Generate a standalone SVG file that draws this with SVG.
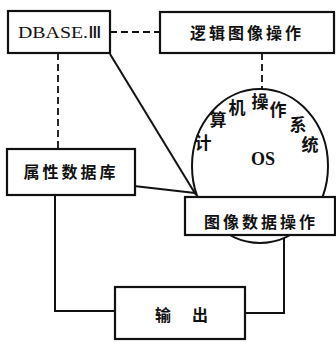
<svg xmlns="http://www.w3.org/2000/svg" width="336" height="343" viewBox="0 0 336 343">
<style>
.box{fill:#fff;stroke:#111;stroke-width:2.2}
.ln{fill:none;stroke:#111;stroke-width:2}
.dash{fill:none;stroke:#111;stroke-width:1.8;stroke-dasharray:7 4}
.cn{font-family:"Noto Sans CJK SC","Noto Sans CJK JP",sans-serif;font-size:16px;font-weight:bold;fill:#111;text-anchor:middle}
.ci{font-size:17px}
.lat{font-family:"Liberation Serif",serif;fill:#111;text-anchor:middle}
</style>
<rect width="336" height="343" fill="#fff"/>
<g id="connectors">
<path class="dash" d="M110 32 H160"/>
<path class="dash" d="M262 53 V90"/>
<path class="dash" d="M58 53 V149"/>
<path class="ln" d="M110 54 L196 195"/>
<path class="ln" d="M134 186 L195 193"/>
<path class="ln" d="M55 195 V311 H115"/>
<path class="ln" d="M245 313 H284 V235"/>
</g>
<g id="os">
<ellipse cx="260" cy="166" rx="68" ry="77" fill="#fff" stroke="#111" stroke-width="2"/>
<text class="cn ci" x="203" y="149">计</text>
<text class="cn ci" x="218" y="126">算</text>
<text class="cn ci" x="237" y="114">机</text>
<text class="cn ci" x="260" y="108">操</text>
<text class="cn ci" x="278" y="116">作</text>
<text class="cn ci" x="298" y="131">系</text>
<text class="cn ci" x="310" y="151">统</text>
<text class="lat" x="263" y="165" font-size="18" font-weight="bold">OS</text>
</g>
<g id="dbase">
<rect class="box" x="8" y="11" width="102" height="42"/>
<text class="lat" x="60" y="38" font-size="17" textLength="84" lengthAdjust="spacingAndGlyphs">DBASE.Ⅲ</text>
</g>
<g id="logic">
<rect class="box" x="160" y="12" width="174" height="41"/>
<text class="cn" x="247" y="39" letter-spacing="3">逻辑图像操作</text>
</g>
<g id="attr">
<rect class="box" x="7" y="149" width="128" height="46"/>
<text class="cn" x="71" y="178" letter-spacing="3">属性数据库</text>
</g>
<g id="image">
<rect class="box" x="185" y="197" width="150" height="38"/>
<text class="cn" x="261" y="228" letter-spacing="3">图像数据操作</text>
</g>
<g id="output">
<rect class="box" x="115" y="287" width="130" height="52"/>
<text class="cn" x="163" y="321" font-size="17">输</text>
<text class="cn" x="200" y="321" font-size="17">出</text>
</g>
</svg>
